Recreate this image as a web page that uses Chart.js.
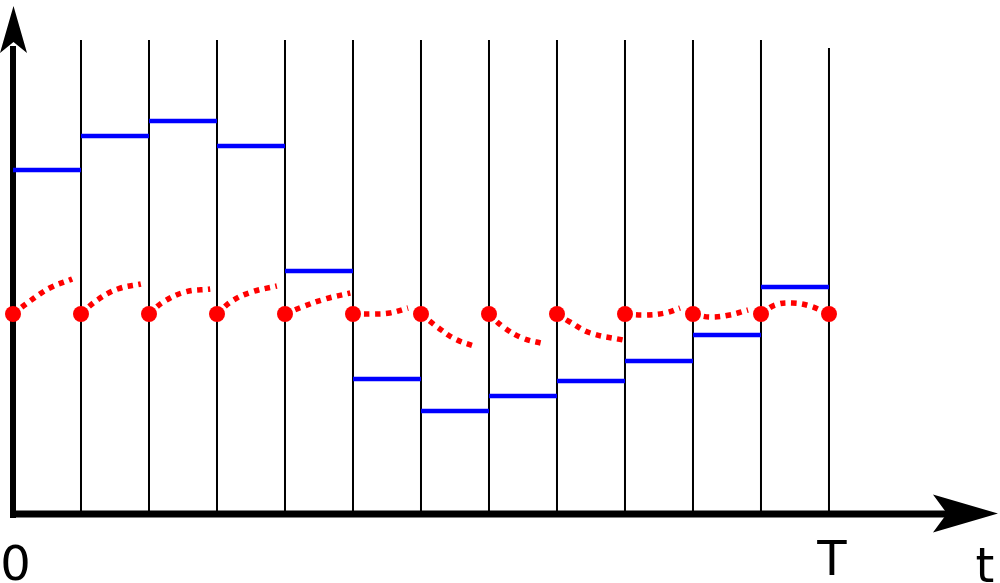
<!DOCTYPE html>
<html>
<head>
<meta charset="utf-8">
<script src="https://cdn.jsdelivr.net/npm/chart.js@4/dist/chart.umd.min.js"></script>
<style>
  html, body { margin:0; padding:0; background:#fff; }
  #wrap { width:1000px; height:583px; }
</style>
</head>
<body>
<div id="wrap"><canvas id="c" width="1000" height="583"></canvas></div>
<script>
// knots on the time axis (0 .. T)
const knots = [0,1,2,3,4,5,6,7,8,9,10,11,12];
const tickLabels = { 0:'0', 12:'T' };
const axisLabel = 't';
const lineTop = [4.74,4.74,4.74,4.74,4.74,4.74,4.74,4.74,4.74,4.74,4.74,4.74,4.66];

// blue step levels, one per interval
const levels = [3.44, 3.78, 3.93, 3.68, 2.43, 1.35, 1.03, 1.18, 1.33, 1.53, 1.79, 2.27];

// red dots at every knot
const dotLevel = 2.0;

// red dotted paths inside each interval
const curveT = [
    [0, 0.25, 0.54, 0.87],
    [1, 1.24, 1.54, 1.88],
    [2, 2.21, 2.53, 2.90],
    [3, 3.22, 3.51, 3.88],
    [4, 4.25, 4.59, 4.96],
    [5, 5.29, 5.54, 5.81],
    [6, 6.24, 6.50, 6.82],
    [7, 7.21, 7.49, 7.82],
    [8, 8.19, 8.49, 8.97],
    [9, 9.29, 9.59, 9.81],
    [10, 10.25, 10.54, 10.81],
    [11, 11.21, 11.46, 11.72, 12]
];
const curveV = [
    [2.0, 2.13, 2.26, 2.35],
    [2.0, 2.14, 2.25, 2.30],
    [2.0, 2.12, 2.22, 2.25],
    [2.0, 2.13, 2.22, 2.28],
    [2.0, 2.07, 2.15, 2.21],
    [2.0, 2.00, 2.01, 2.06],
    [2.0, 1.87, 1.75, 1.67],
    [2.0, 1.87, 1.76, 1.70],
    [2.0, 1.92, 1.81, 1.74],
    [2.0, 1.99, 2.01, 2.06],
    [2.0, 1.97, 1.99, 2.04],
    [2.0, 2.09, 2.11, 2.08, 2.0]
];

const X_MIN = -0.1912, X_MAX = 14.515, Y_MIN = -0.69, Y_MAX = 5.14;
const X_TIP = 14.485, Y_TIP = 5.08;

const datasets = [];

// vertical lines
knots.slice(1).forEach((k, i) => {
    datasets.push({
        data: [{x:k, y:0}, {x:k, y:lineTop[i+1]}],
        borderColor:'#000', borderWidth:2, pointRadius:0, order:4
    });
});

// axis shafts
datasets.push({ data:[{x:0, y:-0.04}, {x:0, y:Y_TIP-0.4}], borderColor:'#000', borderWidth:6, pointRadius:0, order:3 });
datasets.push({ data:[{x:-0.04, y:0}, {x:X_TIP-0.7, y:0}], borderColor:'#000', borderWidth:7, pointRadius:0, order:3 });

// blue steps
const stepData = [];
levels.forEach((v, i) => {
    stepData.push({x:knots[i], y:v}, {x:knots[i+1], y:v}, {x:knots[i+1], y:null});
});
datasets.push({ data:stepData, borderColor:'#0000ff', borderWidth:4.5, pointRadius:0, spanGaps:false, order:2 });

// red dotted curves
curveT.forEach((ts, i) => {
    datasets.push({
        data: ts.map((t, j) => ({x:t, y:curveV[i][j]})),
        borderColor:'#ff0000', borderWidth:5.5, borderDash:[5.5,5.5],
        pointRadius:0, tension:0.4, order:1
    });
});

// red dots
datasets.push({
    data: knots.map(k => ({x:k, y:dotLevel})),
    showLine:false, pointRadius:8, pointHoverRadius:8,
    pointBackgroundColor:'#ff0000', pointBorderWidth:0, order:0
});

const axesPlugin = {
    id:'axesDeco',
    afterDatasetsDraw(chart){
        const c = chart.ctx, xs = chart.scales.x, ys = chart.scales.y;
        c.save();
        c.fillStyle = '#000';
        // y arrow
        let tx = xs.getPixelForValue(0) + 0.5, ty = ys.getPixelForValue(Y_TIP);
        c.beginPath();
        c.moveTo(tx, ty);
        c.lineTo(tx + 13.5, ty + 47);
        c.lineTo(tx, ty + 36);
        c.lineTo(tx - 13.5, ty + 47);
        c.closePath();
        c.fill();
        // x arrow
        tx = xs.getPixelForValue(X_TIP); ty = ys.getPixelForValue(0) - 0.5;
        c.beginPath();
        c.moveTo(tx, ty);
        c.lineTo(tx - 65, ty - 19);
        c.lineTo(tx - 51, ty);
        c.lineTo(tx - 65, ty + 19);
        c.closePath();
        c.fill();
        // labels
        c.font = '48px "DejaVu Sans"';
        c.textAlign = 'center';
        c.textBaseline = 'alphabetic';
        Object.keys(tickLabels).forEach(k => {
            const px = xs.getPixelForValue(+k);
            c.fillText(tickLabels[k], +k === 0 ? px + 2.5 : px + 3, +k === 0 ? 580 : 575);
        });
        c.fillText(axisLabel, 985, 582);
        c.restore();
    }
};

new Chart(document.getElementById('c'), {
    type:'line',
    data:{ datasets },
    options:{
        responsive:false, animation:false, devicePixelRatio:1,
        layout:{ padding:0, autoPadding:false },
        plugins:{ legend:{display:false}, tooltip:{enabled:false} },
        scales:{
            x:{ type:'linear', min:X_MIN, max:X_MAX, display:false },
            y:{ type:'linear', min:Y_MIN, max:Y_MAX, display:false }
        },
        elements:{ line:{ borderCapStyle:'butt' } }
    },
    plugins:[axesPlugin]
});
</script>
</body>
</html>
